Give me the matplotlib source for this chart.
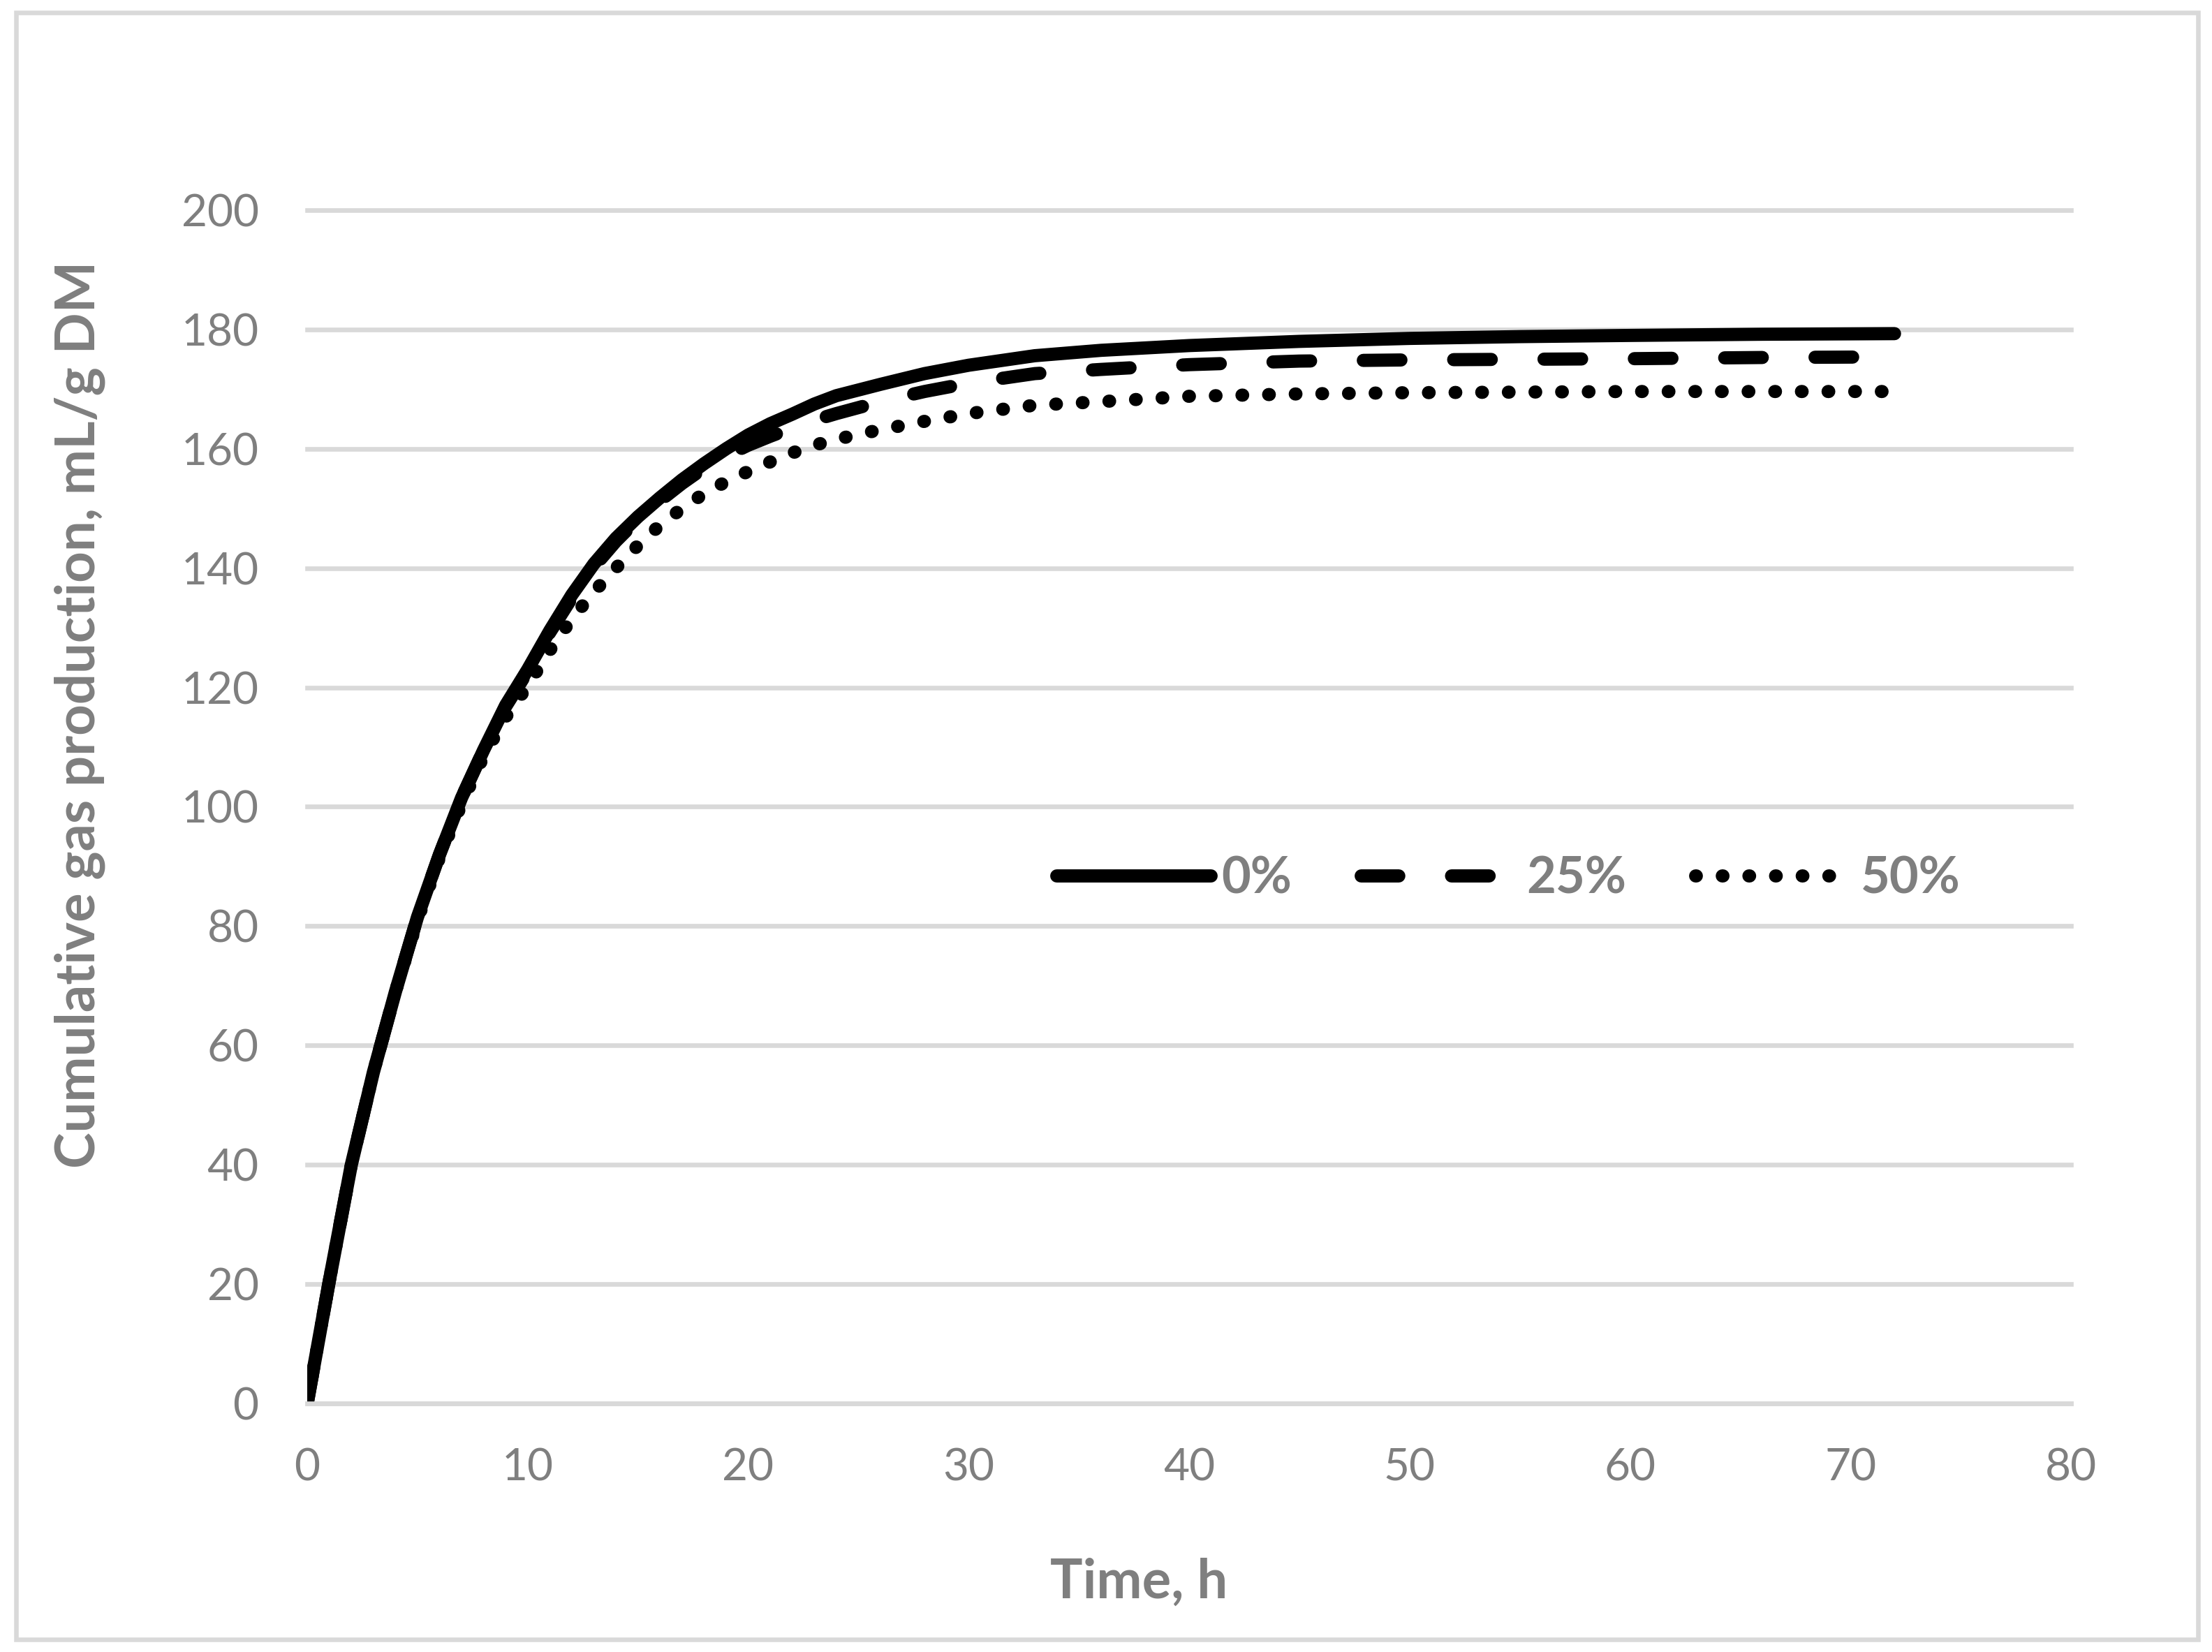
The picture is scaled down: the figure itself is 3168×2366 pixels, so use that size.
import matplotlib.pyplot as plt
from matplotlib.patches import Rectangle

# time points, h
hours = [0, 1, 2, 3, 4, 5, 6, 7, 8, 9, 10, 11, 12, 13, 14, 15, 16, 17, 18,
         19, 20, 21, 22, 23, 24, 26, 28, 30, 33, 36, 40, 45, 50, 55, 60, 66,
         72]

# cumulative gas production, mL/g DM
gas_0 = [0, 20.5, 40, 55.5, 69, 81.5, 92, 101.5, 109.5, 117, 123, 129.5,
         135.5, 140.7, 145, 148.6, 151.8, 154.8, 157.5, 160, 162.3, 164.2,
         165.8, 167.5, 168.9, 170.8, 172.6, 174.0, 175.6, 176.5, 177.3,
         178.0, 178.5, 178.8, 179.0, 179.2, 179.3]
gas_25 = [0, 20.5, 40, 55.5, 69, 81.5, 92, 101.5, 109.5, 116.8, 122.7, 129.2,
          135, 140.2, 144.5, 148.2, 151.3, 154.2, 156.8, 158.8, 160.6, 162.1,
          163.5, 164.8, 165.9, 167.9, 169.6, 171.0, 172.6, 173.3, 174.1,
          174.7, 174.9, 175.0, 175.1, 175.3, 175.4]
gas_50 = [0, 20.5, 40, 55.5, 69, 81, 91.5, 100.5, 108.5, 115, 120.3, 126.2,
          131.5, 136, 140, 143.8, 147.2, 150, 152.5, 154.5, 156.2, 157.8,
          159.3, 160.6, 161.6, 163.2, 164.6, 165.9, 167.3, 167.9, 168.8,
          169.2, 169.4, 169.5, 169.6, 169.6, 169.6]

labels = ["0%", "25%", "50%"]
x_ticks = list(range(0, 81, 10))
y_ticks = list(range(0, 201, 20))

gray = "#7f7f7f"
grid_gray = "#d9d9d9"

plt.rcParams["font.family"] = ["Lato", "DejaVu Sans"]

fig = plt.figure(figsize=(15.84, 11.83), dpi=200)
ax = fig.add_axes([0.1389, 0.1505, 0.7973, 0.7223])

lw = 6.8
ax.plot(hours, gas_0, color="black", lw=lw, solid_capstyle="round",
        solid_joinstyle="round", label=labels[0])
ax.plot(hours, gas_25, color="black", lw=lw, dashes=(2.85, 4.0),
        dash_capstyle="round", label=labels[1])
ax.plot(hours, gas_50, color="black", lw=lw, dashes=(0.05, 1.97),
        dash_capstyle="round", label=labels[2])

ax.set_xlim(0, 80)
ax.set_ylim(0, 200)
ax.set_xticks(x_ticks)
ax.set_yticks(y_ticks)
ax.yaxis.grid(True, color=grid_gray, lw=2.4)
ax.set_axisbelow(True)
for gl in ax.get_ygridlines():
    gl.set_clip_on(False)

for side in ["top", "right", "left"]:
    ax.spines[side].set_visible(False)
ax.spines["bottom"].set_color(grid_gray)
ax.spines["bottom"].set_linewidth(2.4)

ax.tick_params(axis="both", length=0, labelsize=23, labelcolor=gray)
ax.tick_params(axis="x", pad=23)
ax.tick_params(axis="y", pad=25)

fig.text(114 / 3168, 1 - 1023 / 2366, "Cumulative gas production, mL/g DM",
         rotation=90, ha="center", va="center", fontsize=28,
         fontweight="bold", color=gray)
fig.text(1631 / 3168, 1 - 2289 / 2366, "Time, h", ha="center", va="baseline",
         fontsize=28, fontweight="bold", color=gray)

ax.legend(loc="center", bbox_to_anchor=(0.681, 0.4394), ncol=3,
          frameon=False, prop={"size": 26, "weight": "bold"},
          labelcolor=gray, handlelength=3.07, handletextpad=0.21,
          columnspacing=1.37, borderpad=0)

fig.patches.append(Rectangle((0.0073, 0.0076), 0.9864, 0.9848,
                             transform=fig.transFigure, fill=False,
                             edgecolor=grid_gray, lw=2.35))

fig.savefig("out.png", dpi=200)
